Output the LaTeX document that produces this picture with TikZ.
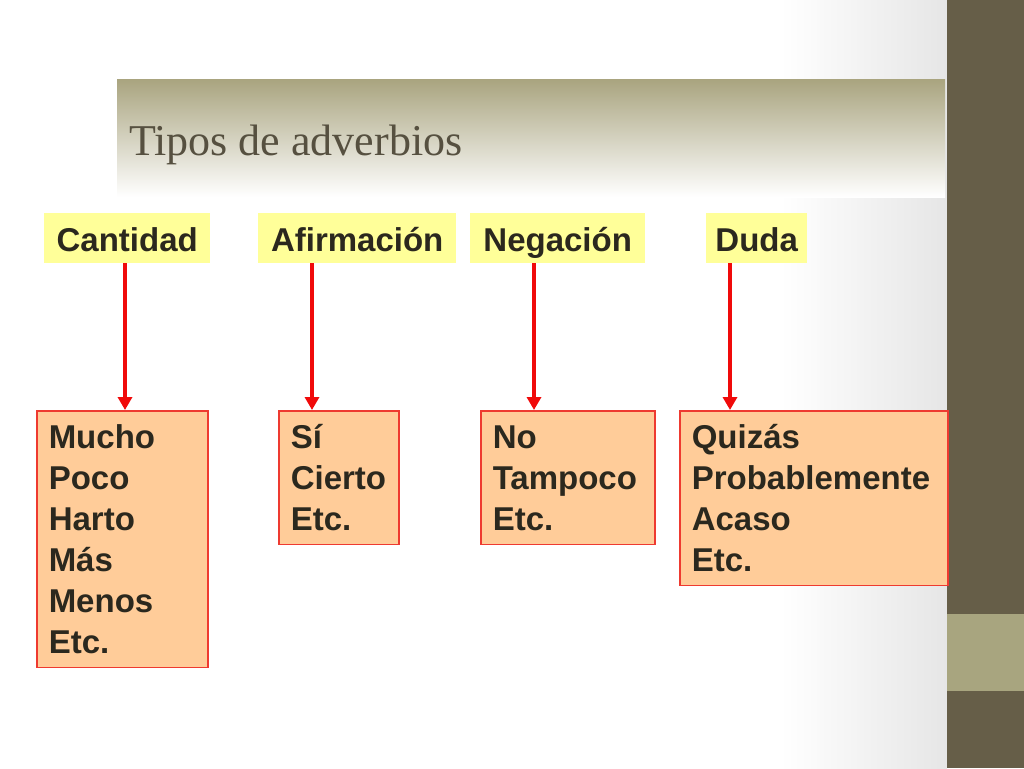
\documentclass[tikz,border=0pt]{standalone}
\usepackage{fontspec}
\setmainfont{Liberation Sans}
\newfontfamily\titlefont{Liberation Serif}
\usetikzlibrary{arrows.meta}
\definecolor{bardark}{HTML}{665E48}
\definecolor{barlight}{HTML}{A8A57F}
\definecolor{bandtop}{HTML}{A9A47F}
\definecolor{titlecol}{HTML}{565040}
\definecolor{hdrfill}{HTML}{FFFF99}
\definecolor{boxfill}{HTML}{FFCC99}
\definecolor{boxline}{HTML}{EE3A30}
\definecolor{txt}{HTML}{2B281E}
\definecolor{arrred}{HTML}{F00A0A}
\definecolor{bggray}{HTML}{E6E6E6}
\begin{document}
\begin{tikzpicture}[x=1pt,y=-1pt,
  hdr/.style={fill=hdrfill, text=txt, font=\fontsize{33}{40}\selectfont\bfseries,
    anchor=north west, inner sep=0pt, minimum height=50pt, align=center,
    text height=27pt, text depth=0pt},
  lst/.style={fill=boxfill, draw=boxline, line width=1.5pt, text=txt,
    font=\fontsize{33}{41}\selectfont\bfseries, anchor=north west, align=left,
    inner xsep=12pt, inner ysep=13.5pt, text height=24.5pt},
  arr/.style={draw=arrred, line width=4pt, -{Triangle[width=14pt,length=13pt]}}]
\useasboundingbox (0,0) rectangle (1024,768);
% background
\fill[white] (0,0) rectangle (1024,768);
\shade[left color=white, right color=bggray] (780,0) rectangle (947,768);
% title band
\shade[top color=bandtop, bottom color=white] (117,79) rectangle (945,197);
\node[anchor=base west, inner sep=0pt, text=titlecol, font=\titlefont\fontsize{44}{50}\selectfont] (title) at (129,155) {Tipos de adverbios};
% right bar
\fill[bardark] (947,0) rectangle (1024,768);
\fill[barlight] (947,614) rectangle (1024,691);
% headers
\node[hdr, minimum width=166pt] (cant) at (44,213) {Cantidad};
\node[hdr, minimum width=198pt] (afir) at (258,213) {Afirmación};
\node[hdr, minimum width=175pt] (neg) at (470,213) {Negación};
\node[hdr, minimum width=101pt] (duda) at (706,213) {Duda};
% lists
\node[lst, text width=147pt] (l1) at (36,410) {Mucho\\Poco\\Harto\\Más\\Menos\\Etc.};
\node[lst, text width=96pt] (l2) at (278,410) {Sí\\Cierto\\Etc.};
\node[lst, text width=150pt] (l3) at (480,410) {No\\Tampoco\\Etc.};
\node[lst, text width=244pt] (l4) at (679,410) {Quizás\\Probablemente\\Acaso\\Etc.};
% arrows
\coordinate (a1) at (125,0);
\coordinate (a2) at (312,0);
\coordinate (a3) at (534,0);
\coordinate (a4) at (730,0);
\draw[arr] (cant.south -| a1) -- (l1.north -| a1);
\draw[arr] (afir.south -| a2) -- (l2.north -| a2);
\draw[arr] (neg.south -| a3) -- (l3.north -| a3);
\draw[arr] (duda.south -| a4) -- (l4.north -| a4);
\end{tikzpicture}
\end{document}
